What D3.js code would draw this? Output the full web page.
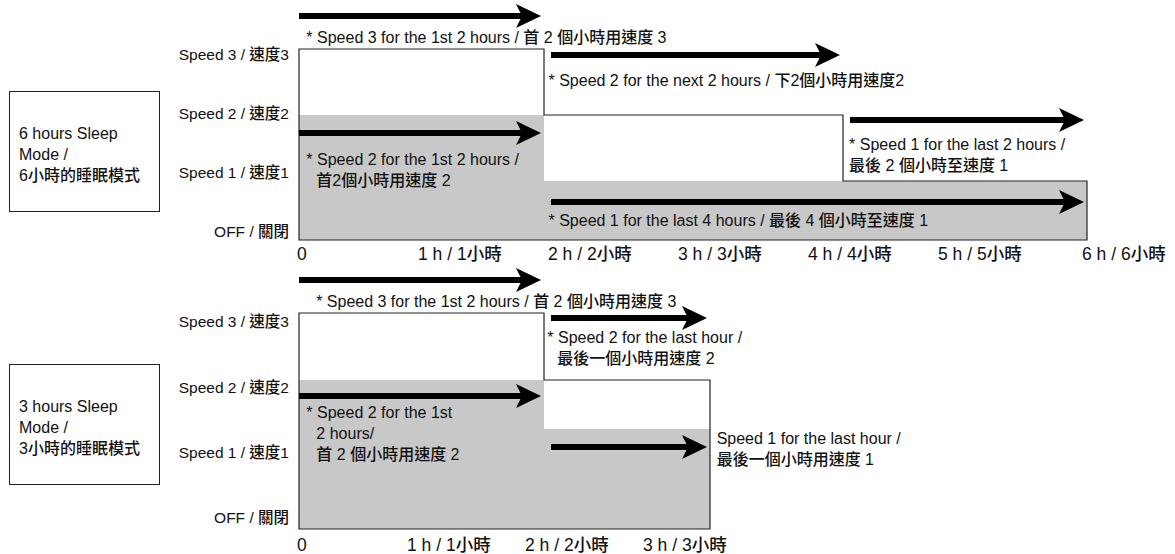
<!DOCTYPE html>
<html lang="zh-Hant">
<head>
<meta charset="utf-8">
<script src="https://d3js.org/d3.v7.min.js"></script>
<style>
  body { margin: 0; background: #fff; }
  text { font-family: "Liberation Sans", Arial, "Noto Sans CJK TC", sans-serif; font-weight: 500; fill: #111; }
</style>
</head>
<body>
<script>
var width = 1175;
var height = 554;

// ---- data ----
var speedLabels = ["OFF / 關閉", "Speed 1 / 速度1", "Speed 2 / 速度2", "Speed 3 / 速度3"];

// 6 hours sleep mode
var ticks6 = ["0", "1 h / 1小時", "2 h / 2小時", "3 h / 3小時", "4 h / 4小時", "5 h / 5小時", "6 h / 6小時"];
var steps6 = [{from: 0, to: 2, speed: 3}, {from: 2, to: 4, speed: 2}, {from: 4, to: 6, speed: 1}];
var shade6 = [{from: 0, to: 2, speed: 2}, {from: 2, to: 6, speed: 1}];
var arrows6 = [
    {from: 0, to: 2, level: 3.5},
    {from: 2, to: 4, level: 2.91},
    {from: 4, to: 6, level: 1.92},
    {from: 0, to: 2, level: 1.73},
    {from: 2, to: 6, level: 0.64}
];
var notes6 = [
    {hour: 0.06, level: 3.18, indent: false, lines: ["* Speed 3 for the 1st 2 hours / 首 2 個小時用速度 3"]},
    {hour: 2.03, level: 2.53, indent: false, lines: ["* Speed 2 for the next 2 hours / 下2個小時用速度2"]},
    {hour: 4.05, level: 1.55, indent: false, lines: ["* Speed 1 for the last 2 hours /", "最後 2 個小時至速度 1"]},
    {hour: 0.06, level: 1.32, indent: true, lines: ["* Speed 2 for the 1st 2 hours /", "首2個小時用速度 2"]},
    {hour: 2.03, level: 0.34, indent: false, lines: ["* Speed 1 for the last 4 hours / 最後 4 個小時至速度 1"]}
];
var title6 = ["6 hours Sleep", "Mode /", "6小時的睡眠模式"];

// 3 hours sleep mode
var ticks3 = ["0", "1 h / 1小時", "2 h / 2小時", "3 h / 3小時"];
var steps3 = [{from: 0, to: 2, speed: 3}, {from: 2, to: 3, speed: 2}];
var shade3 = [{from: 0, to: 2, speed: 2}, {from: 2, to: 3, speed: 1}];
var arrows3 = [
    {from: 0, to: 2, level: 3.49},
    {from: 2, to: 3, level: 2.93},
    {from: 0, to: 2, level: 1.67},
    {from: 2, to: 3, level: 0.82}
];
var notes3 = [
    {hour: 0.14, level: 3.18, indent: false, lines: ["* Speed 3 for the 1st 2 hours / 首 2 個小時用速度 3"]},
    {hour: 2.02, level: 2.63, indent: true, lines: ["* Speed 2 for the last hour /", "最後一個小時用速度 2"]},
    {hour: 0.06, level: 1.33, indent: true, lines: ["* Speed 2 for the 1st", "2 hours/", "首 2 個小時用速度 2"]},
    {hour: 3.04, level: 0.91, indent: false, lines: ["Speed 1 for the last hour /", "最後一個小時用速度 1"]}
];
var title3 = ["3 hours Sleep", "Mode /", "3小時的睡眠模式"];

// ---- layout ----
var panels = [
    {
        steps: steps6, shade: shade6, arrows: arrows6, notes: notes6, title: title6, ticks: ticks6,
        xDomain: [0, 2, 4, 6], xRange: [299, 544, 843, 1087],
        yRange: [240, 181, 115, 49],
        tickDomain: [0, 1, 5, 6], tickRange: [297, 418, 938, 1082], tickY: 260,
        labelRange: [232, 55],
        box: {x: 9, y: 91, w: 150, h: 120}
    },
    {
        steps: steps3, shade: shade3, arrows: arrows3, notes: notes3, title: title3, ticks: ticks3,
        xDomain: [0, 2, 3], xRange: [299, 544, 710],
        yRange: [529, 429, 380, 313],
        tickDomain: [0, 1, 3], tickRange: [297, 407, 643], tickY: 551,
        labelRange: [518, 322],
        box: {x: 9, y: 364, w: 150, h: 120}
    }
];

var svg = d3.select("body").append("svg")
    .attr("width", width)
    .attr("height", height);

panels.forEach(drawPanel);

function drawPanel(p) {
    var g = svg.append("g");
    var x = d3.scaleLinear().domain(p.xDomain).range(p.xRange);
    var y = d3.scaleLinear().domain([0, 1, 2, 3]).range(p.yRange);
    var tx = d3.scaleLinear().domain(p.tickDomain).range(p.tickRange);
    var ly = d3.scalePoint().domain(speedLabels).range(p.labelRange);

    // white profile area, grey shaded profile
    var pts = [[0, 0]];
    p.steps.forEach(function(s) { pts.push([s.from, s.speed], [s.to, s.speed]); });
    pts.push([p.steps[p.steps.length - 1].to, 0]);
    var line = d3.line().x(function(d) { return x(d[0]); }).y(function(d) { return y(d[1]); });

    g.append("path").attr("d", line(pts) + "Z").attr("fill", "#fff");

    g.selectAll("rect.shade").data(p.shade).enter().append("rect")
        .attr("class", "shade")
        .attr("x", function(d) { return x(d.from); })
        .attr("y", function(d) { return y(d.speed); })
        .attr("width", function(d) { return x(d.to) - x(d.from); })
        .attr("height", function(d) { return y(0) - y(d.speed); })
        .attr("fill", "#c8c8c8");

    g.append("path").attr("d", line(pts) + "Z")
        .attr("fill", "none").attr("stroke", "#222").attr("stroke-width", 1.2);

    // arrows
    p.arrows.forEach(function(a) {
        var x1 = x(a.from) + (a.from === 0 ? 0 : 7);
        var x2 = x(a.to) - 3;
        var yy = Math.round(y(a.level));
        g.append("line")
            .attr("x1", x1).attr("x2", x2 - 18)
            .attr("y1", yy).attr("y2", yy)
            .attr("stroke", "#000").attr("stroke-width", 6);
        g.append("path")
            .attr("d", "M" + x2 + "," + yy + "L" + (x2 - 25) + "," + (yy - 12) +
                "L" + (x2 - 19) + "," + yy + "L" + (x2 - 25) + "," + (yy + 12) + "Z")
            .attr("fill", "#000");
    });

    // notes
    p.notes.forEach(function(n) {
        var t = g.append("text")
            .attr("x", x(n.hour))
            .attr("y", y(n.level))
            .attr("dy", "0.35em")
            .style("font-size", "16px");
        n.lines.forEach(function(l, i) {
            t.append("tspan")
                .attr("x", x(n.hour) + (i > 0 && n.indent ? 10 : 0))
                .attr("dy", i === 0 ? "0.35em" : "21px")
                .text(l);
        });
    });

    // y labels
    g.selectAll("text.ylab").data(speedLabels).enter().append("text")
        .attr("class", "ylab")
        .attr("x", 289)
        .attr("y", function(d) { return ly(d); })
        .attr("dy", "0.35em")
        .attr("text-anchor", "end")
        .style("font-size", "15.5px")
        .text(function(d) { return d; });

    // x tick labels
    g.selectAll("text.xlab").data(p.ticks).enter().append("text")
        .attr("class", "xlab")
        .attr("x", function(d, i) { return tx(i); })
        .attr("y", p.tickY)
        .style("font-size", "17.5px")
        .text(function(d) { return d; });

    // mode box
    g.append("rect")
        .attr("x", p.box.x + 0.5).attr("y", p.box.y + 0.5)
        .attr("width", p.box.w).attr("height", p.box.h)
        .attr("fill", "#fff").attr("stroke", "#222");
    var bt = g.append("text").style("font-size", "16px");
    p.title.forEach(function(l, i) {
        bt.append("tspan")
            .attr("x", p.box.x + 10)
            .attr("y", p.box.y + p.box.h / 2 + 3 + (i - 1) * 21)
            .attr("dy", "0.35em")
            .text(l);
    });
}
</script>
</body>
</html>
